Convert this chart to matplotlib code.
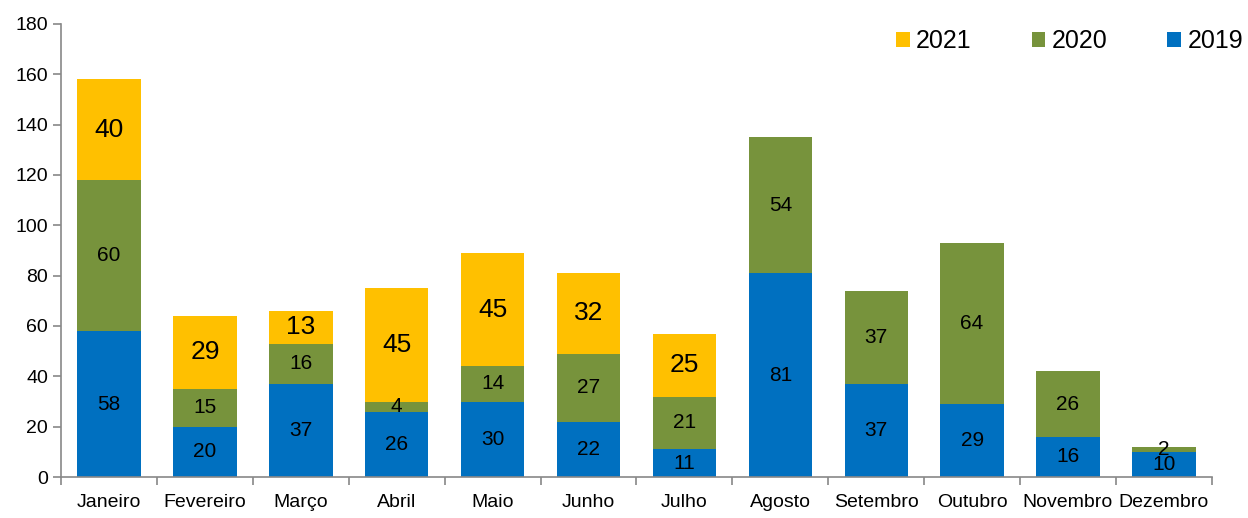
import matplotlib
matplotlib.use("Agg")
import matplotlib.pyplot as plt
import numpy as np

plt.rcParams['font.family'] = ['Liberation Sans Narrow', 'Liberation Sans', 'DejaVu Sans']

months = ["Janeiro", "Fevereiro", "Março", "Abril", "Maio", "Junho", "Julho",
          "Agosto", "Setembro", "Outubro", "Novembro", "Dezembro"]
v2019 = [58, 20, 37, 26, 30, 22, 11, 81, 37, 29, 16, 10]
v2020 = [60, 15, 16, 4, 14, 27, 21, 54, 37, 64, 26, 2]
v2021 = [40, 29, 13, 45, 45, 32, 25, 0, 0, 0, 0, 0]

c2019 = "#0070C0"
c2020 = "#77933C"
c2021 = "#FFC000"

fig = plt.figure(figsize=(12.48, 5.18), dpi=100)
ax = fig.add_axes([0.049, 0.079, 0.922, 0.875])

x = np.arange(len(months))
w = 0.66
a = np.array(v2019)
b = np.array(v2020)
c = np.array(v2021)
b1 = ax.bar(x, a, w, color=c2019, label="2019")
b2 = ax.bar(x, b, w, bottom=a, color=c2020, label="2020")
b3 = ax.bar(x, c, w, bottom=a + b, color=c2021, label="2021")

for i in range(len(months)):
    ax.text(x[i], a[i] / 2, str(a[i]), ha='center', va='center', fontsize=15)
    ax.text(x[i], a[i] + b[i] / 2, str(b[i]), ha='center', va='center', fontsize=15)
    if c[i] > 0:
        ax.text(x[i], a[i] + b[i] + c[i] / 2, str(c[i]), ha='center', va='center', fontsize=19)

ax.set_xlim(-0.5, len(months) - 0.5)
ax.set_ylim(0, 180)
ax.set_yticks(np.arange(0, 181, 20))
ax.set_xticks(x)
ax.set_xticklabels(months)
ax.set_xticks(np.arange(-0.5, len(months), 1), minor=True)
ax.tick_params(axis='x', which='major', length=0, labelsize=14, pad=12)
ax.tick_params(axis='x', which='minor', length=6, color='#888888', width=1.2)
ax.tick_params(axis='y', length=6, color='#888888', width=1.2, labelsize=14)
for s in ['top', 'right']:
    ax.spines[s].set_visible(False)
for s in ['left', 'bottom']:
    ax.spines[s].set_color('#888888')
    ax.spines[s].set_linewidth(1.2)

ax.legend(handles=[b3, b2, b1], labels=["2021", "2020", "2019"], ncol=3, frameon=False,
          loc='upper right', bbox_to_anchor=(1.0, 0.953), bbox_transform=fig.transFigure,
          fontsize=18, handlelength=0.55, handleheight=0.55, handletextpad=0.25,
          columnspacing=2.4, borderaxespad=0.0, borderpad=0.2)

fig.savefig("out.png", dpi=100)
